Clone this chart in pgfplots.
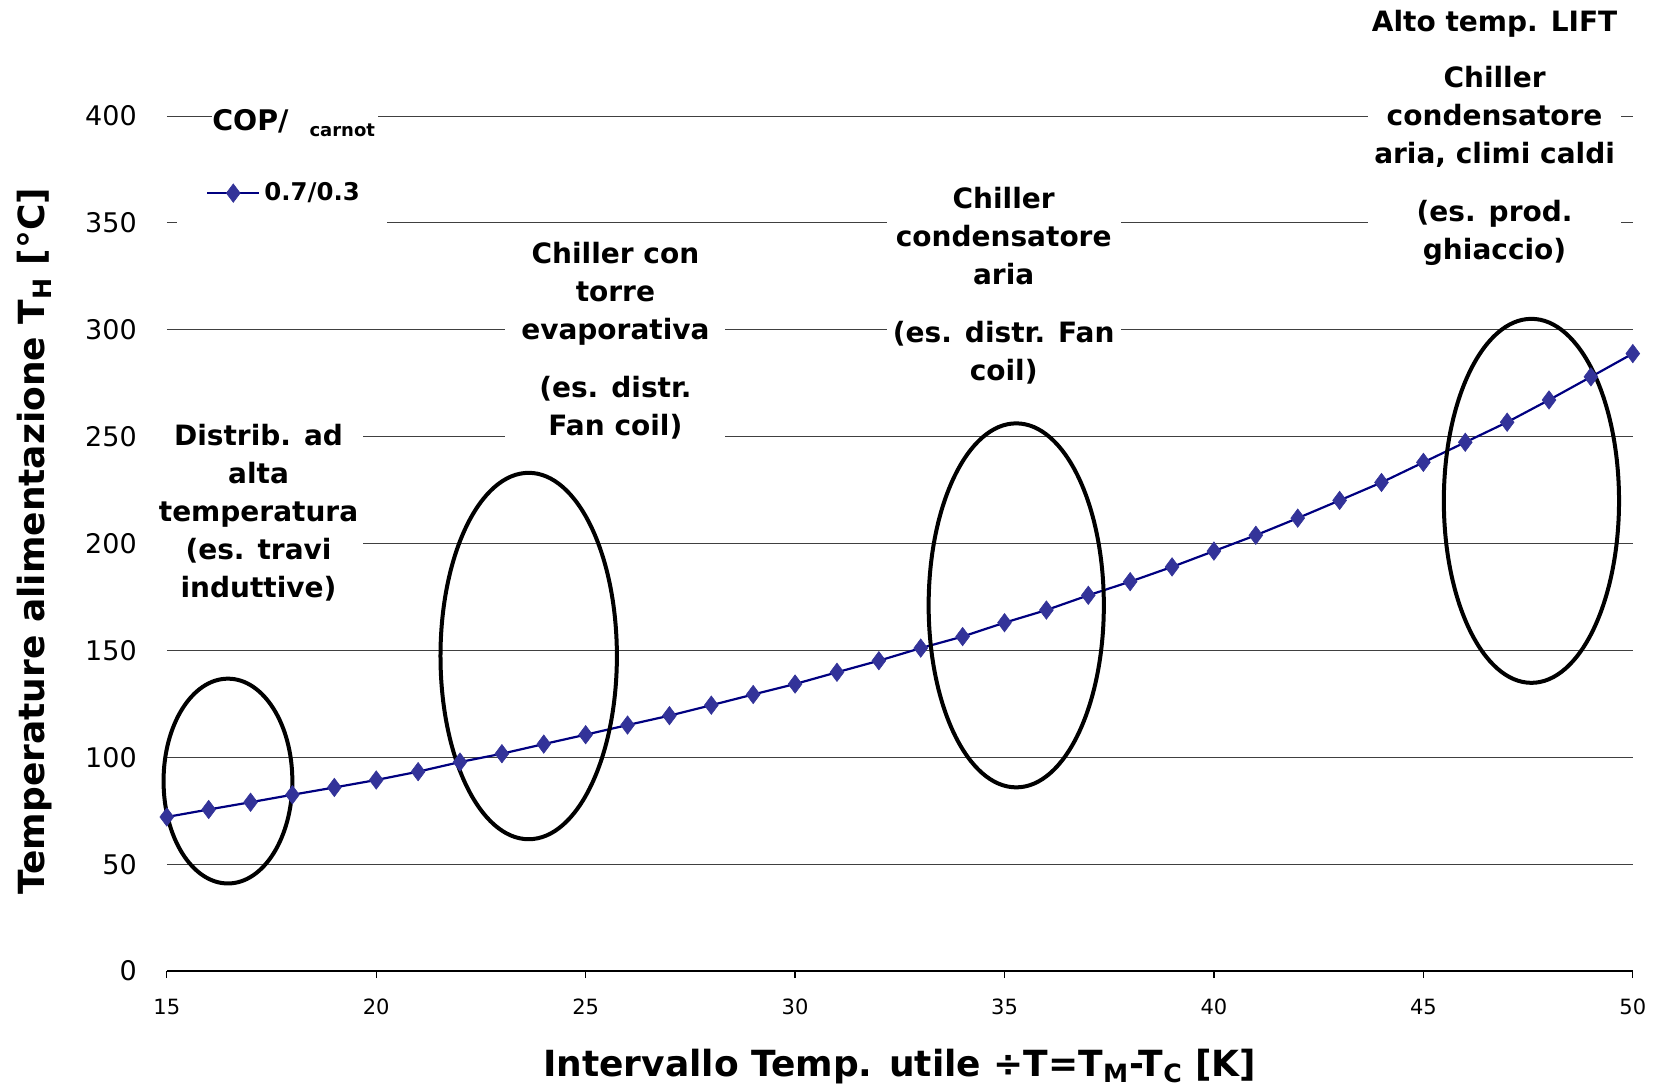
\documentclass[border=0pt]{standalone}
\usepackage{fontspec}
\setmainfont{DejaVu Sans}
\usepackage{pgfplots}
\usepackage{pgfplotstable}
\pgfplotsset{compat=1.18}

\definecolor{markfill}{HTML}{333399}
\definecolor{navyline}{HTML}{000080}
\newcommand{\annot}{\fontsize{14}{19}\selectfont\bfseries}

\pgfplotstableread{
x y
15 72.1
16 75.6
17 79.0
18 82.5
19 85.9
20 89.4
21 93.3
22 97.8
23 101.7
24 106.2
25 110.6
26 115.1
27 119.5
28 124.4
29 129.4
30 134.3
31 139.8
32 145.2
33 151.1
34 156.5
35 163.0
36 168.9
37 175.8
38 182.2
39 189.1
40 196.5
41 203.9
42 211.9
43 220.2
44 228.6
45 238.0
46 247.4
47 256.8
48 267.2
49 278.0
50 288.9
}\datatable

\begin{document}
\begin{tikzpicture}
\begin{axis}[
  at={(0pt,0pt)}, anchor=south west,
  scale only axis, width=733pt, height=427.5pt,
  xmin=15, xmax=50, ymin=0, ymax=400,
  xtick={15,20,...,50}, ytick={0,50,...,400},
  axis x line*=bottom, axis y line*=left,
  x axis line style={-, black, line width=0.6pt},
  y axis line style={draw=none},
  xtick style={black, line width=0.6pt}, ytick style={draw=none},
  tick align=outside, major tick length=3.5pt,
  ymajorgrids, major grid style={black!75, line width=0.5pt},
  /pgf/number format/assume math mode=true,
  xticklabel style={font=\fontsize{10.5}{12}\selectfont},
  yticklabel style={font=\fontsize{13.5}{15}\selectfont},
  xticklabel shift=7pt, yticklabel shift=8pt,
  clip=false,
  xlabel={Intervallo Temp. utile ÷T=T\textsubscript{M}-T\textsubscript{C} [K]},
  ylabel={Temperature alimentazione T\textsubscript{H} [°C]},
  every axis x label/.style={at={(axis description cs:0.5,-0.1111)}, anchor=center, font=\fontsize{18}{20}\selectfont\bfseries},
  every axis y label/.style={at={(axis description cs:-0.09,0.503)}, rotate=90, anchor=center, font=\fontsize{18}{20}\selectfont\bfseries},
  legend style={at={(0.0266,0.9099)}, anchor=west, draw=none, fill=none, inner sep=0pt, font=\fontsize{12.2}{14}\selectfont\bfseries},
  legend image code/.code={\draw[mark repeat=2,mark phase=2,#1] plot coordinates {(0pt,0pt) (13pt,0pt) (26pt,0pt)};},
]
\addplot[navyline, line width=1.1pt, mark=diamond*, mark size=4.6pt,
  mark options={fill=markfill, draw=markfill, line width=0.3pt}] table[x=x,y=y] {\datatable};
\addlegendentry{0.7/0.3}

% white boxes behind legend and its title
\fill[white] (axis description cs:0.00696,0.861) rectangle (axis description cs:0.1502,0.9486);
\fill[white] (axis description cs:0.0308,0.9603) rectangle (axis description cs:0.1441,1.0246);
\node[anchor=west, inner sep=0pt, font=\fontsize{14.2}{16}\selectfont\bfseries]
  at (axis description cs:0.0308,0.9913) {COP/\hspace{10.5pt}\raisebox{-3pt}{\fontsize{9}{10}\selectfont carnot}};

% ellipses
\draw[line width=2pt] (axis cs:16.46,88.9) ellipse [x radius=32.2pt, y radius=51.2pt];
\draw[line width=2pt] (axis cs:23.64,147.4) ellipse [x radius=44.1pt, y radius=91.6pt];
\draw[line width=2pt] (axis cs:35.28,171.1) ellipse [x radius=43.8pt, y radius=91.0pt];
\draw[line width=2pt] (axis cs:47.58,220.0) ellipse [x radius=43.8pt, y radius=91.0pt];

% annotation boxes
\node[fill=white, align=center, minimum width=104pt, inner sep=2pt, font=\annot]
  at (axis cs:17.19,214.3) {Distrib. ad\\alta\\temperatura\\(es. travi\\induttive)};
\node[fill=white, align=center, minimum width=110pt, inner sep=2pt, font=\annot]
  at (axis cs:25.71,295.1) {Chiller con\\torre\\evaporativa\\[10pt](es. distr.\\Fan coil)};
\node[fill=white, align=center, minimum width=117pt, inner sep=2pt, font=\annot]
  at (axis cs:34.98,320.5) {Chiller\\condensatore\\aria\\[10pt](es. distr. Fan\\coil)};
\node[fill=white, align=center, minimum width=124pt, inner sep=2pt, font=\annot]
  at (axis cs:46.70,389.6) {Alto temp. LIFT\\[9pt]Chiller\\condensatore\\aria, climi caldi\\[10pt](es. prod.\\ghiaccio)};
\end{axis}
\pgfresetboundingbox
\path[use as bounding box] (-83.4pt,-59.45pt) rectangle (744.1pt,485.55pt);
\end{tikzpicture}
\end{document}
